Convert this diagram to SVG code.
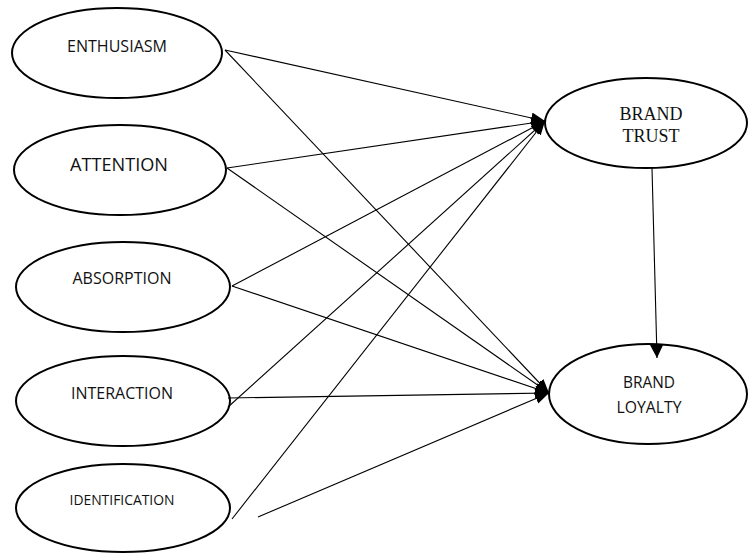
<svg xmlns="http://www.w3.org/2000/svg" width="749" height="554" viewBox="0 0 749 554">
<style>
.node ellipse{fill:#fff;stroke:#000;stroke-width:2}
.sans{font-family:"Open Sans","Liberation Sans",sans-serif;fill:#111;text-anchor:middle}
.serif{font-family:"Liberation Serif","Times New Roman",serif;fill:#111;text-anchor:middle}
.edges line{stroke:#000;stroke-width:1.1;marker-end:url(#ah)}
</style>
<defs>
<marker id="ah" markerUnits="userSpaceOnUse" markerWidth="15" markerHeight="13" refX="14" refY="5.5" orient="auto">
<path d="M0,0 L14,5.5 L0,11 Z" fill="#000"/>
</marker>
<marker id="ah2" markerUnits="userSpaceOnUse" markerWidth="16" markerHeight="16" refX="14" refY="7" orient="auto">
<path d="M0,0 L14,7 L0,14 Z" fill="#000"/>
</marker>
</defs>
<rect width="749" height="554" fill="#fff"/>
<g class="node" id="enthusiasm">
<ellipse cx="117" cy="53" rx="105" ry="45"/>
<text class="sans" x="117" y="52" font-size="16" textLength="100" lengthAdjust="spacingAndGlyphs">ENTHUSIASM</text>
</g>
<g class="node" id="attention">
<ellipse cx="120" cy="170" rx="106" ry="45"/>
<text class="sans" x="119" y="171" font-size="18" textLength="98" lengthAdjust="spacingAndGlyphs">ATTENTION</text>
</g>
<g class="node" id="absorption">
<ellipse cx="123" cy="287" rx="107" ry="45"/>
<text class="sans" x="122" y="284" font-size="16" textLength="99" lengthAdjust="spacingAndGlyphs">ABSORPTION</text>
</g>
<g class="node" id="interaction">
<ellipse cx="123" cy="401" rx="107" ry="45"/>
<text class="sans" x="122" y="399" font-size="16" textLength="102" lengthAdjust="spacingAndGlyphs">INTERACTION</text>
</g>
<g class="node" id="identification">
<ellipse cx="123" cy="508" rx="107" ry="44"/>
<text class="sans" x="122" y="505" font-size="14" textLength="105" lengthAdjust="spacingAndGlyphs">IDENTIFICATION</text>
</g>
<g class="node" id="brand-trust">
<ellipse cx="646" cy="123" rx="101" ry="45"/>
<text class="serif" x="651" y="120" font-size="18">BRAND</text>
<text class="serif" x="651" y="142" font-size="18">TRUST</text>
</g>
<g class="node" id="brand-loyalty">
<ellipse cx="648" cy="394" rx="99" ry="50"/>
<text class="sans" x="649" y="388" font-size="15.5" textLength="52" lengthAdjust="spacingAndGlyphs">BRAND</text>
<text class="sans" x="649" y="413" font-size="15.5" textLength="65" lengthAdjust="spacingAndGlyphs">LOYALTY</text>
</g>
<g class="edges" id="connectors">
<line x1="225" y1="50" x2="545" y2="121"/>
<line x1="225" y1="50" x2="549" y2="393"/>
<line x1="227" y1="168" x2="545" y2="121"/>
<line x1="227" y1="168" x2="549" y2="393"/>
<line x1="232" y1="286" x2="545" y2="121"/>
<line x1="232" y1="286" x2="549" y2="393"/>
<line x1="228" y1="398" x2="549" y2="393"/>
<line x1="228" y1="407" x2="545" y2="121"/>
<line x1="232" y1="519" x2="545" y2="121"/>
<line x1="258" y1="517" x2="549" y2="393"/>
<line x1="652" y1="168" x2="657" y2="358" style="marker-end:url(#ah2)"/>
</g>
</svg>
